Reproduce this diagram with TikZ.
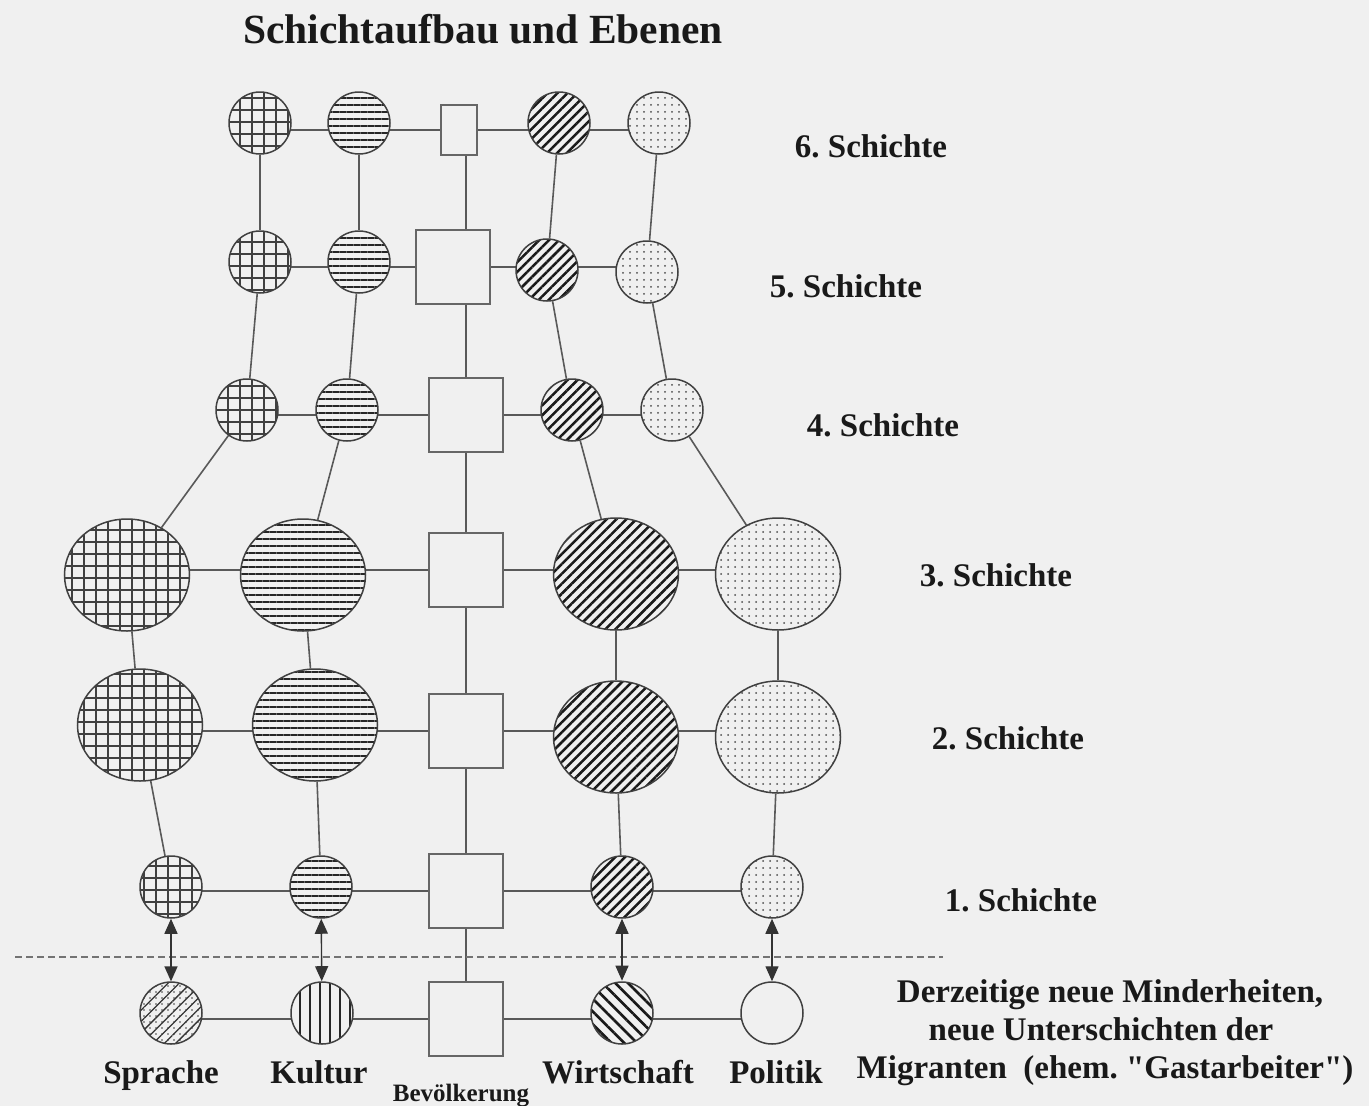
\documentclass[tikz,border=0pt]{standalone}
\usepackage{fontspec}
\setmainfont{Liberation Serif}
\frenchspacing
\usetikzlibrary{patterns.meta,arrows.meta,shapes.geometric,backgrounds}
\pgfdeclarelayer{canvas}
\pgfsetlayers{canvas,background,main}
\definecolor{bgc}{HTML}{F0F0F0}
\tikzset{
  base/.style={draw=black!75, line width=1.5pt, inner sep=0pt, preaction={fill=bgc}},
  sm/.style={base, circle, minimum size=62pt},
  lg/.style={base, ellipse, minimum width=125pt, minimum height=112pt},
  bx/.style={base, rectangle, draw=black!60, line width=1.8pt, minimum size=74pt},
  spr/.style={pattern={Lines[angle=0,distance=12pt,line width=1.2pt]}, pattern color=black!75,
     postaction={pattern={Lines[angle=90,distance=12pt,line width=1.2pt]}, pattern color=black!75}},
  kul/.style={pattern={Lines[angle=0,distance=7pt,line width=1.2pt]}, pattern color=black!85},
  wir/.style={pattern={Lines[angle=45,distance=7pt,line width=2.5pt]}, pattern color=black!90},
  pol/.style={pattern={Dots[distance=7pt,radius=1pt]}, pattern color=black!70},
  spr0/.style={pattern={Lines[angle=45,distance=8pt,line width=1.3pt]}, pattern color=black!80,
     postaction={pattern={Dots[distance=6pt,radius=0.9pt]}, pattern color=black!75}},
  kul0/.style={pattern={Lines[angle=90,distance=10pt,line width=1.6pt]}, pattern color=black!85},
  wir0/.style={pattern={Lines[angle=-45,distance=9pt,line width=2.6pt]}, pattern color=black!90},
  conn/.style={draw=black!65, line width=1.6pt},
  arr/.style={draw=black!80, line width=1.4pt, {Triangle[length=15pt,width=13pt]}-{Triangle[length=15pt,width=13pt]}},
  lbl/.style={font=\fontsize{33}{38}\selectfont\bfseries, text=black!90, anchor=base, inner sep=0pt},
}
\begin{document}
\begin{tikzpicture}[x=1pt,y=-1pt]
\begin{pgfonlayer}{canvas}
\fill[bgc] (0,0) rectangle (1369,1106);
\end{pgfonlayer}
\useasboundingbox (0,0) rectangle (1369,1106);

% title
\node[lbl, font=\fontsize{41.5}{46}\selectfont\bfseries] (title) at (483,43) {Schichtaufbau und Ebenen};

% row 6
\node[sm,spr] (S6) at (260,123) {};
\node[sm,kul] (K6) at (359,123) {};
\node[bx, minimum width=36pt, minimum height=50pt] (B6) at (459,130) {};
\node[sm,wir] (W6) at (559,123) {};
\node[sm,pol] (P6) at (659,123) {};
% row 5
\node[sm,spr] (S5) at (260,262) {};
\node[sm,kul] (K5) at (359,262) {};
\node[bx] (B5) at (453,267) {};
\node[sm,wir] (W5) at (547,270) {};
\node[sm,pol] (P5) at (647,272) {};
% row 4
\node[sm,spr] (S4) at (247,410) {};
\node[sm,kul] (K4) at (347,410) {};
\node[bx] (B4) at (466,415) {};
\node[sm,wir] (W4) at (572,410) {};
\node[sm,pol] (P4) at (672,410) {};
% row 3
\node[lg,spr] (S3) at (127,575) {};
\node[lg,kul] (K3) at (303,575) {};
\node[bx] (B3) at (466,570) {};
\node[lg,wir] (W3) at (616,574) {};
\node[lg,pol] (P3) at (778,574) {};
% row 2
\node[lg,spr] (S2) at (140,725) {};
\node[lg,kul] (K2) at (315,725) {};
\node[bx] (B2) at (466,731) {};
\node[lg,wir] (W2) at (616,737) {};
\node[lg,pol] (P2) at (778,737) {};
% row 1
\node[sm,spr] (S1) at (171,887) {};
\node[sm,kul] (K1) at (321,887) {};
\node[bx] (B1) at (466,891) {};
\node[sm,wir] (W1) at (622,887) {};
\node[sm,pol] (P1) at (772,887) {};
% row 0
\node[sm,spr0] (S0) at (171,1013) {};
\node[sm,kul0] (K0) at (322,1013) {};
\node[bx] (B0) at (466,1019) {};
\node[sm,wir0] (W0) at (622,1013) {};
\node[sm] (P0) at (772,1013) {};

\begin{scope}[on background layer]
% horizontal connectors, at the level of each row's box
\foreach \r in {6,5,4,3,2,1,0}{
  \draw[conn] (S\r |- B\r) -- (P\r |- B\r);
}
% vertical connectors
\foreach \a/\b in {6/5,5/4,4/3,3/2,2/1}{
  \draw[conn] (S\a) -- (S\b);
  \draw[conn] (K\a) -- (K\b);
  \draw[conn] (W\a) -- (W\b);
  \draw[conn] (P\a) -- (P\b);
}
\draw[conn] (B6.south -| B0) -- (B0);
\end{scope}

% dashed separator
\coordinate (dl) at (15,957);
\coordinate (dr) at (943,957);
\draw[draw=black!55, line width=1.5pt, dash pattern=on 7pt off 4pt] (dl) -- (dr);

% arrows
\draw[arr] (S1) -- (S0);
\draw[arr] (K1) -- (K0);
\draw[arr] (W1) -- (W0);
\draw[arr] (P1) -- (P0);

% layer labels
\node[lbl] (L6) at (871,157) {6. Schichte};
\node[lbl] (L5) at (846,297) {5. Schichte};
\node[lbl] (L4) at (883,436) {4. Schichte};
\node[lbl] (L3) at (996,586) {3. Schichte};
\node[lbl] (L2) at (1008,749) {2. Schichte};
\node[lbl] (L1) at (1021,911) {1. Schichte};

% description
\node[lbl] (D1) at (1110,1002) {Derzeitige neue Minderheiten,};
\node[lbl] (D2) at (1101,1040) {neue Unterschichten der};
\node[lbl] (D3) at (1105,1078) {Migranten\ \ (ehem. \textquotedbl Gastarbeiter\textquotedbl)};

% bottom labels
\node[lbl] (tS) at (161,1083) {Sprache};
\node[lbl] (tK) at (319,1083) {Kultur};
\node[lbl, font=\fontsize{25}{30}\selectfont\bfseries] (tB) at (461,1101) {Bevölkerung};
\node[lbl] (tW) at (618,1083) {Wirtschaft};
\node[lbl] (tP) at (776,1083) {Politik};
\end{tikzpicture}
\end{document}
